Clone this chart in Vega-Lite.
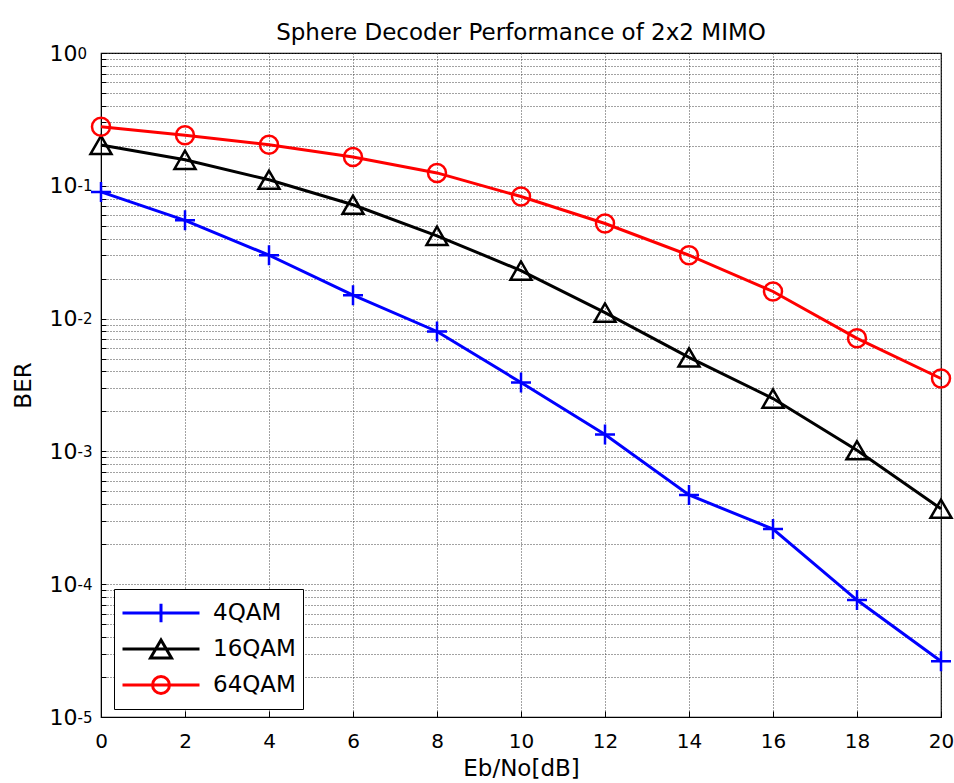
{
  "$schema": "https://vega.github.io/schema/vega-lite/v6.json",
  "autosize": {"type": "none"},
  "padding": {"left": 101, "top": 53, "right": 13, "bottom": 66},
  "width": 840,
  "height": 664,
  "background": "white",
  "title": {
    "text": "Sphere Decoder Performance of 2x2 MIMO",
    "font": "DejaVu Sans",
    "fontSize": 23,
    "fontWeight": "normal",
    "color": "black",
    "offset": -3
  },
  "config": {
    "view": {"stroke": "black", "strokeWidth": 1.2},
    "axis": {
      "labelFont": "DejaVu Sans",
      "labelFontSize": 20,
      "labelColor": "black",
      "titleFont": "DejaVu Sans",
      "titleFontSize": 23,
      "titleFontWeight": "normal",
      "titleColor": "black",
      "domainColor": "black",
      "tickColor": "black",
      "gridColor": "#444444",
      "gridDash": [1, 2],
      "gridWidth": 1,
      "gridOpacity": 1
    },
    "legend": {
      "strokeColor": "black",
      "fillColor": "white",
      "padding": 7,
      "labelFont": "DejaVu Sans",
      "labelFontSize": 23,
      "labelColor": "black",
      "labelOffset": 12,
      "clipHeight": 34,
      "rowPadding": 2,
      "symbolSize": 5929,
      "symbolStrokeWidth": 3,
      "symbolOpacity": 1
    }
  },
  "data": {
    "values": [
      {"snr": 0, "ber": 0.090, "series": "4QAM"},
      {"snr": 2, "ber": 0.0550, "series": "4QAM"},
      {"snr": 4, "ber": 0.0300, "series": "4QAM"},
      {"snr": 6, "ber": 0.0150, "series": "4QAM"},
      {"snr": 8, "ber": 0.0080, "series": "4QAM"},
      {"snr": 10, "ber": 0.0033, "series": "4QAM"},
      {"snr": 12, "ber": 0.00134, "series": "4QAM"},
      {"snr": 14, "ber": 0.00047, "series": "4QAM"},
      {"snr": 16, "ber": 0.00026, "series": "4QAM"},
      {"snr": 18, "ber": 0.000076, "series": "4QAM"},
      {"snr": 20, "ber": 0.0000263, "series": "4QAM"},
      {"snr": 0, "ber": 0.203, "series": "16QAM"},
      {"snr": 2, "ber": 0.157, "series": "16QAM"},
      {"snr": 4, "ber": 0.111, "series": "16QAM"},
      {"snr": 6, "ber": 0.072, "series": "16QAM"},
      {"snr": 8, "ber": 0.042, "series": "16QAM"},
      {"snr": 10, "ber": 0.023, "series": "16QAM"},
      {"snr": 12, "ber": 0.0111, "series": "16QAM"},
      {"snr": 14, "ber": 0.0051, "series": "16QAM"},
      {"snr": 16, "ber": 0.0025, "series": "16QAM"},
      {"snr": 18, "ber": 0.00102, "series": "16QAM"},
      {"snr": 20, "ber": 0.00037, "series": "16QAM"},
      {"snr": 0, "ber": 0.278, "series": "64QAM"},
      {"snr": 2, "ber": 0.240, "series": "64QAM"},
      {"snr": 4, "ber": 0.204, "series": "64QAM"},
      {"snr": 6, "ber": 0.165, "series": "64QAM"},
      {"snr": 8, "ber": 0.125, "series": "64QAM"},
      {"snr": 10, "ber": 0.083, "series": "64QAM"},
      {"snr": 12, "ber": 0.052, "series": "64QAM"},
      {"snr": 14, "ber": 0.030, "series": "64QAM"},
      {"snr": 16, "ber": 0.016, "series": "64QAM"},
      {"snr": 18, "ber": 0.0071, "series": "64QAM"},
      {"snr": 20, "ber": 0.00354, "series": "64QAM"}
    ]
  },
  "encoding": {
    "x": {
      "field": "snr",
      "type": "quantitative",
      "scale": {"domain": [0, 20], "nice": false, "zero": false},
      "axis": {
        "title": "Eb/No[dB]",
        "values": [0, 2, 4, 6, 8, 10, 12, 14, 16, 18, 20],
        "grid": true,
        "tickSize": -6,
        "labelPadding": 20,
        "titlePadding": 6,
        "labelFlush": false
      }
    }
  },
  "layer": [
    {
      "transform": [{"filter": "datum.series === '4QAM'"}],
      "mark": {"type": "line", "strokeWidth": 3, "color": "#0000ff"},
      "encoding": {
        "y": {
          "field": "ber",
          "type": "quantitative",
          "scale": {"type": "log", "domain": [0.00001, 1], "nice": false},
          "axis": {
            "orient": "left",
            "title": "BER",
            "values": [0.00001, 0.00002, 0.00003, 0.00004, 0.00005, 0.00006, 0.00007, 0.00008, 0.00009,
                       0.0001, 0.0002, 0.0003, 0.0004, 0.0005, 0.0006, 0.0007, 0.0008, 0.0009,
                       0.001, 0.002, 0.003, 0.004, 0.005, 0.006, 0.007, 0.008, 0.009,
                       0.01, 0.02, 0.03, 0.04, 0.05, 0.06, 0.07, 0.08, 0.09,
                       0.1, 0.2, 0.3, 0.4, 0.5, 0.6, 0.7, 0.8, 0.9, 1],
            "labelExpr": "abs(log(datum.value)/LN10 - round(log(datum.value)/LN10)) < 0.001 ? '10' : ''",
            "labelFontSize": 22,
            "labelBaseline": "middle",
            "grid": true,
            "tickSize": -5,
            "labelPadding": 29,
            "titlePadding": 14,
            "labelFlush": false
          }
        }
      }
    },
    {
      "transform": [{"filter": "datum.series === '4QAM'"}],
      "mark": {"type": "point", "shape": "M-1,0H1M0,-1V1", "size": 400, "filled": false, "strokeWidth": 2.5, "opacity": 1, "color": "#0000ff"},
      "encoding": {"y": {"field": "ber", "type": "quantitative", "axis": null}}
    },
    {
      "transform": [{"filter": "datum.series === '16QAM'"}],
      "mark": {"type": "line", "strokeWidth": 3, "color": "#000000"},
      "encoding": {"y": {"field": "ber", "type": "quantitative", "axis": null}}
    },
    {
      "transform": [{"filter": "datum.series === '16QAM'"}],
      "mark": {"type": "point", "shape": "triangle-up", "size": 441, "filled": false, "strokeWidth": 2.5, "opacity": 1, "color": "#000000"},
      "encoding": {"y": {"field": "ber", "type": "quantitative", "axis": null}}
    },
    {
      "transform": [{"filter": "datum.series === '64QAM'"}],
      "mark": {"type": "line", "strokeWidth": 3, "color": "#ff0000"},
      "encoding": {"y": {"field": "ber", "type": "quantitative", "axis": null}}
    },
    {
      "transform": [{"filter": "datum.series === '64QAM'"}],
      "mark": {"type": "point", "shape": "circle", "size": 324, "filled": false, "strokeWidth": 2.5, "opacity": 1, "color": "#ff0000"},
      "encoding": {"y": {"field": "ber", "type": "quantitative", "axis": null}}
    },
    {
      "mark": {"type": "point", "filled": false, "strokeWidth": 3, "size": 5929, "opacity": 0},
      "encoding": {
        "y": {
          "field": "ber",
          "type": "quantitative",
          "axis": {
            "orient": "left",
            "title": null,
            "values": [0.00001, 0.0001, 0.001, 0.01, 0.1, 1],
            "labelExpr": "['-5','-4','-3','-2','-1','0'][round(log(datum.value)/LN10)+5]",
            "labelFontSize": 15,
            "labelAlign": "left",
            "labelBaseline": "middle",
            "labelDy": -11,
            "labelPadding": 24,
            "ticks": false,
            "domain": false,
            "grid": false,
            "labelFlush": false
          }
        },
        "stroke": {
          "field": "series",
          "type": "nominal",
          "scale": {"domain": ["4QAM", "16QAM", "64QAM"], "range": ["#0000ff", "#000000", "#ff0000"]},
          "legend": {"title": null, "orient": "none", "legendX": 13, "legendY": 536, "symbolOpacity": 1}
        },
        "shape": {
          "field": "series",
          "type": "nominal",
          "scale": {
            "domain": ["4QAM", "16QAM", "64QAM"],
            "range": [
              "M-1,0H1M0,-0.24V0.24",
              "M-1,0H1M0,-0.236L-0.273,0.236L0.273,0.236Z",
              "M-1,0H1M0.22,0A0.22,0.22 0 1,1 -0.22,0A0.22,0.22 0 1,1 0.22,0"
            ]
          },
          "legend": {"title": null, "orient": "none", "legendX": 13, "legendY": 536, "symbolOpacity": 1}
        }
      }
    }
  ],
  "resolve": {"axis": {"y": "independent"}}
}
